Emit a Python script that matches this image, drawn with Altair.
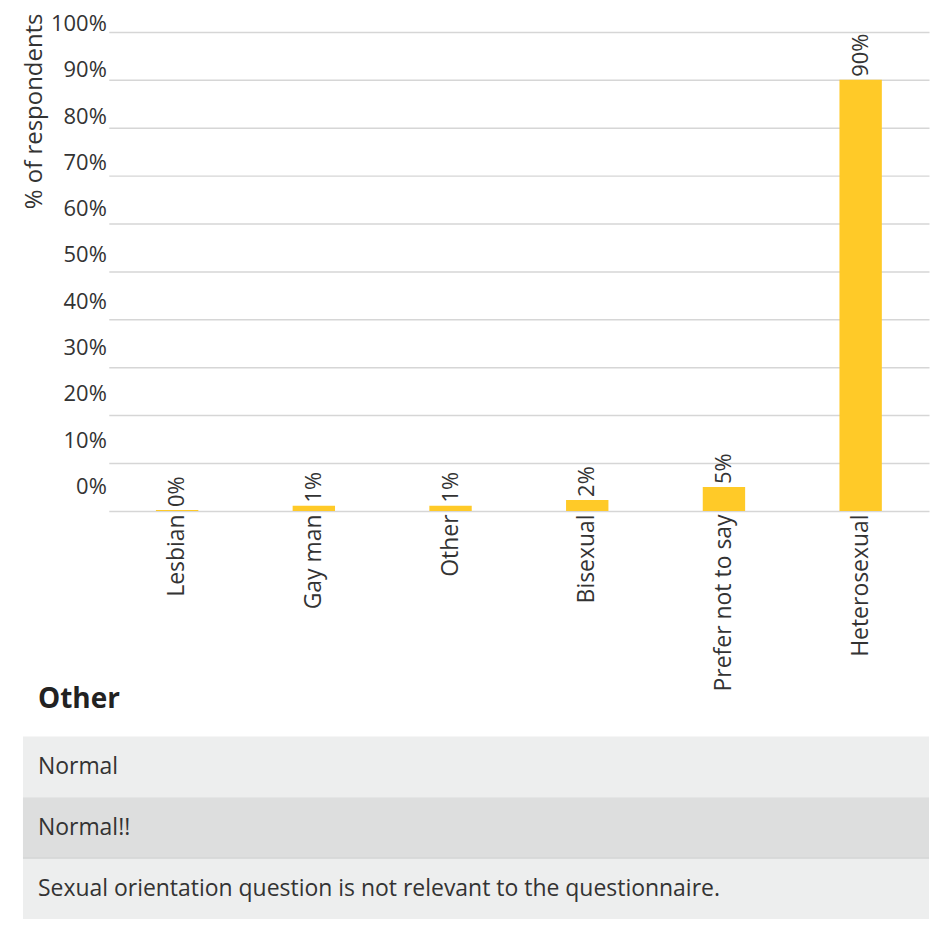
import altair as alt
import pandas as pd

# ---- data ----
categories = ["Lesbian", "Gay man", "Other", "Bisexual", "Prefer not to say", "Heterosexual"]
values = [0.2, 1.1, 1.1, 2.3, 5.0, 90.0]
value_labels = ["0%", "1%", "1%", "2%", "5%", "90%"]
y_ticks = [0, 10, 20, 30, 40, 50, 60, 70, 80, 90, 100]
y_tick_labels = ["0%", "10%", "20%", "30%", "40%", "50%", "60%", "70%", "80%", "90%", "100%"]
other_title = "Other"
other_responses = [
    "Normal",
    "Normal!!",
    "Sexual orientation question is not relevant to the questionnaire.",
]
row_shades = ["light", "dark", "light"]

FONT = "Open Sans"
TEXT = "#333333"
PLOT_W = 822
LEFT_EXT = 86  # table and y-axis title reach this far left of the plot

bars_df = pd.DataFrame({"category": categories, "value": values, "label": value_labels})
ticks_df = pd.DataFrame({"tick": y_ticks, "tick_label": y_tick_labels})
table_df = pd.DataFrame({"row": list(range(len(other_responses))),
                         "response": other_responses, "shade": row_shades})

x_enc = alt.X(
    "category:N", sort=categories,
    scale=alt.Scale(paddingInner=0.69, paddingOuter=0.345),
    axis=alt.Axis(title=None, labelAngle=-90, labelAlign="right", labelBaseline="middle",
                  labelPadding=3, labelFontSize=23, labelFont=FONT, labelColor=TEXT,
                  ticks=False, domain=False, labelLimit=0),
)

bars = alt.Chart(bars_df).mark_bar(color="#FFCA28").encode(
    x=x_enc,
    y=alt.Y("value:Q", scale=alt.Scale(domain=[0, 100], nice=False),
            axis=alt.Axis(values=y_ticks, labels=False, ticks=False, domain=False, grid=True,
                          gridColor="#d6d6d6", gridWidth=1.5,
                          title="% of respondents", titleFont=FONT, titleFontSize=24,
                          titleFontWeight="normal", titleColor=TEXT, titleAngle=270,
                          titleX=-74, titleY=-19, titleAlign="right", titleBaseline="middle")),
)

value_text = alt.Chart(bars_df).mark_text(
    angle=270, align="left", baseline="middle", dx=3,
    font=FONT, fontSize=22, color=TEXT,
).encode(
    x=alt.X("category:N", sort=categories),
    y=alt.Y("value:Q", scale=alt.Scale(domain=[0, 100], nice=False)),
    text="label:N",
)

tick_text = alt.Chart(ticks_df).mark_text(
    align="right", baseline="middle", font=FONT, fontSize=22, color=TEXT,
).encode(
    x=alt.value(-2),
    y=alt.Y("tick:Q", scale=alt.Scale(domain=[-5.17, 98.28], nice=False, zero=False), axis=None),
    text="tick_label:N",
)

bar_chart = alt.layer(alt.layer(bars, value_text), tick_text).resolve_scale(
    y="independent"
).properties(width=PLOT_W, height=480)

rows = alt.Chart(table_df).mark_rect().encode(
    x=alt.value(-LEFT_EXT),
    x2=alt.value(PLOT_W),
    y=alt.Y("row:O", axis=None, scale=alt.Scale(paddingInner=0, paddingOuter=0)),
    color=alt.Color("shade:N", scale=alt.Scale(domain=["light", "dark"],
                                               range=["#EDEEEE", "#DDDEDE"]), legend=None),
)
separator = alt.Chart(table_df).transform_filter(
    alt.datum.shade == "dark"
).mark_rule(color="#cdcece", strokeWidth=1).encode(
    x=alt.value(-LEFT_EXT),
    x2=alt.value(PLOT_W),
    y=alt.Y("row:O", axis=None, bandPosition=1),
)
row_text = alt.Chart(table_df).mark_text(
    align="left", baseline="middle", font=FONT, fontSize=23, color=TEXT,
).encode(
    y=alt.Y("row:O", axis=None),
    x=alt.value(-LEFT_EXT + 15),
    text="response:N",
)

table_chart = alt.layer(rows, separator, row_text).properties(
    width=PLOT_W, height=183,
    title=alt.Title(other_title, anchor="start", frame="group", dx=-LEFT_EXT + 15,
                    fontSize=28, font=FONT, fontWeight="bold", color="#222222",
                    baseline="alphabetic", offset=0),
)

chart = alt.concat(bar_chart, table_chart, columns=1, spacing=-5).properties(
    padding={"left": 14, "top": 4, "right": 0, "bottom": 0}
).configure_view(stroke=None)

chart.save("out.html", embed_options={"renderer": "svg", "actions": False})
